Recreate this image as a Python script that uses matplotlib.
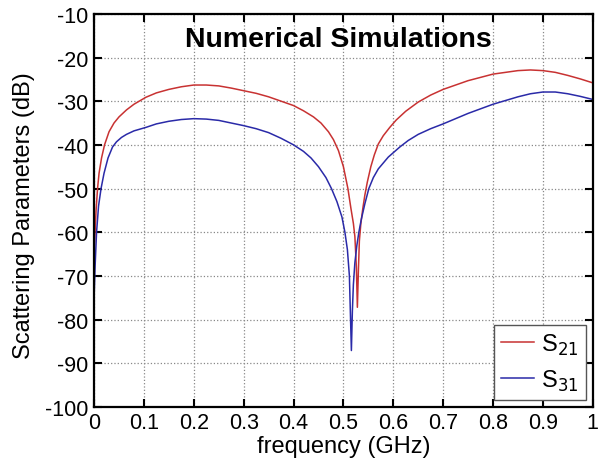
import matplotlib
matplotlib.use('Agg')
import matplotlib.pyplot as plt

plt.rcParams['font.family'] = ['Liberation Sans', 'DejaVu Sans']
plt.rcParams['axes.unicode_minus'] = False

# S21 (red) readings, frequency in GHz, level in dB
freq_s21 = [0, 0.002, 0.004, 0.007, 0.01, 0.015, 0.021, 0.03, 0.04, 0.05,
            0.065, 0.08, 0.104, 0.125, 0.15, 0.175, 0.2, 0.225, 0.25, 0.275,
            0.3, 0.325, 0.35, 0.375, 0.4, 0.42, 0.44, 0.455, 0.47, 0.48,
            0.49, 0.5, 0.509, 0.515, 0.52, 0.523, 0.526, 0.528, 0.530,
            0.532, 0.535, 0.539, 0.543, 0.548, 0.555, 0.562, 0.57, 0.58, 0.593,
            0.606, 0.625, 0.65, 0.675, 0.7, 0.75, 0.8, 0.85, 0.875, 0.9,
            0.925, 0.95, 0.975, 1.0]
s21 = [-65, -60, -55, -50, -46.5, -43, -40, -37, -35, -33.6,
       -32, -30.7, -29.1, -28.1, -27.3, -26.7, -26.3, -26.3, -26.5, -27.0,
       -27.6, -28.2, -29.0, -30.0, -31.0, -32.2, -33.6, -35.0, -37.0, -38.8,
       -41.3, -45, -50, -54.5, -58, -61, -68, -77.2, -69,
       -62, -58, -54.5, -51.5, -48.5, -45, -42.3, -39.8, -37.9, -36.0,
       -34.3, -32.3, -30.2, -28.6, -27.3, -25.3, -23.8, -23.0, -22.85, -23.0,
       -23.4, -24.1, -24.9, -25.8]

# S31 (blue) readings
freq_s31 = [0, 0.002, 0.005, 0.009, 0.014, 0.02, 0.028, 0.037, 0.045, 0.055,
            0.065, 0.08, 0.104, 0.125, 0.15, 0.175, 0.2, 0.225, 0.25, 0.275,
            0.3, 0.325, 0.35, 0.375, 0.4, 0.42, 0.435, 0.45, 0.465, 0.476,
            0.487, 0.497, 0.503, 0.508, 0.512, 0.516, 0.518, 0.520, 0.523, 0.527,
            0.531, 0.536, 0.543, 0.551, 0.56, 0.57, 0.59, 0.613, 0.63, 0.65,
            0.675, 0.7, 0.75, 0.8, 0.85, 0.875, 0.9, 0.925, 0.95, 0.975, 1.0]
s31 = [-75, -68, -60, -54, -50, -46.5, -43, -40.5, -39.3, -38.3,
       -37.6, -36.8, -36, -35.2, -34.6, -34.2, -34.0, -34.1, -34.4, -35.0,
       -35.6, -36.3, -37.2, -38.5, -40, -41.5, -43, -45, -47.5, -50,
       -53, -56.5, -60, -64, -70, -87.1, -78, -72, -67, -63,
       -60, -57, -53.5, -50, -47.5, -45.5, -42.8, -40.5, -39, -37.6,
       -36.3, -35.2, -32.8, -30.7, -29.0, -28.3, -27.9, -27.9, -28.3, -28.9, -29.6]

xticks = [0, 0.1, 0.2, 0.3, 0.4, 0.5, 0.6, 0.7, 0.8, 0.9, 1]
xticklabels = ['0', '0.1', '0.2', '0.3', '0.4', '0.5', '0.6', '0.7', '0.8', '0.9', '1']
yticks = list(range(-100, 0, 10))

fig = plt.figure(figsize=(6.03, 4.64), dpi=100)
ax = fig.add_axes([0.156, 0.121, 0.827, 0.847])

ax.plot(freq_s21, s21, color='#c83232', lw=1.1, label='S$_{21}$')
ax.plot(freq_s31, s31, color='#2a2aa8', lw=1.1, label='S$_{31}$')

ax.set_xlim(0, 1)
ax.set_ylim(-100, -10)
ax.set_xticks(xticks)
ax.set_xticklabels(xticklabels)
ax.set_yticks(yticks)
ax.grid(True, linestyle=':', color='#888888', lw=0.9)
ax.tick_params(direction='in', top=True, right=True, labelsize=15.5,
               length=6, width=1.5, pad=4)
for sp in ax.spines.values():
    sp.set_linewidth(1.6)

ax.set_xlabel('frequency (GHz)', fontsize=17, labelpad=1)
ax.set_ylabel('Scattering Parameters (dB)', fontsize=17)
ax.yaxis.set_label_coords(-0.118, 0.49)

ax.text(0.49, 0.936, 'Numerical Simulations', transform=ax.transAxes,
        ha='center', va='center', fontsize=20.5, fontweight='bold')

leg = ax.legend(loc='lower right', fontsize=17, handlelength=1.4,
                fancybox=False, framealpha=1, edgecolor='#555555',
                borderaxespad=0.3, labelspacing=0.45, handletextpad=0.3,
                borderpad=0.3)
leg.get_frame().set_linewidth(1.0)

fig.savefig('out.png', dpi=100)
